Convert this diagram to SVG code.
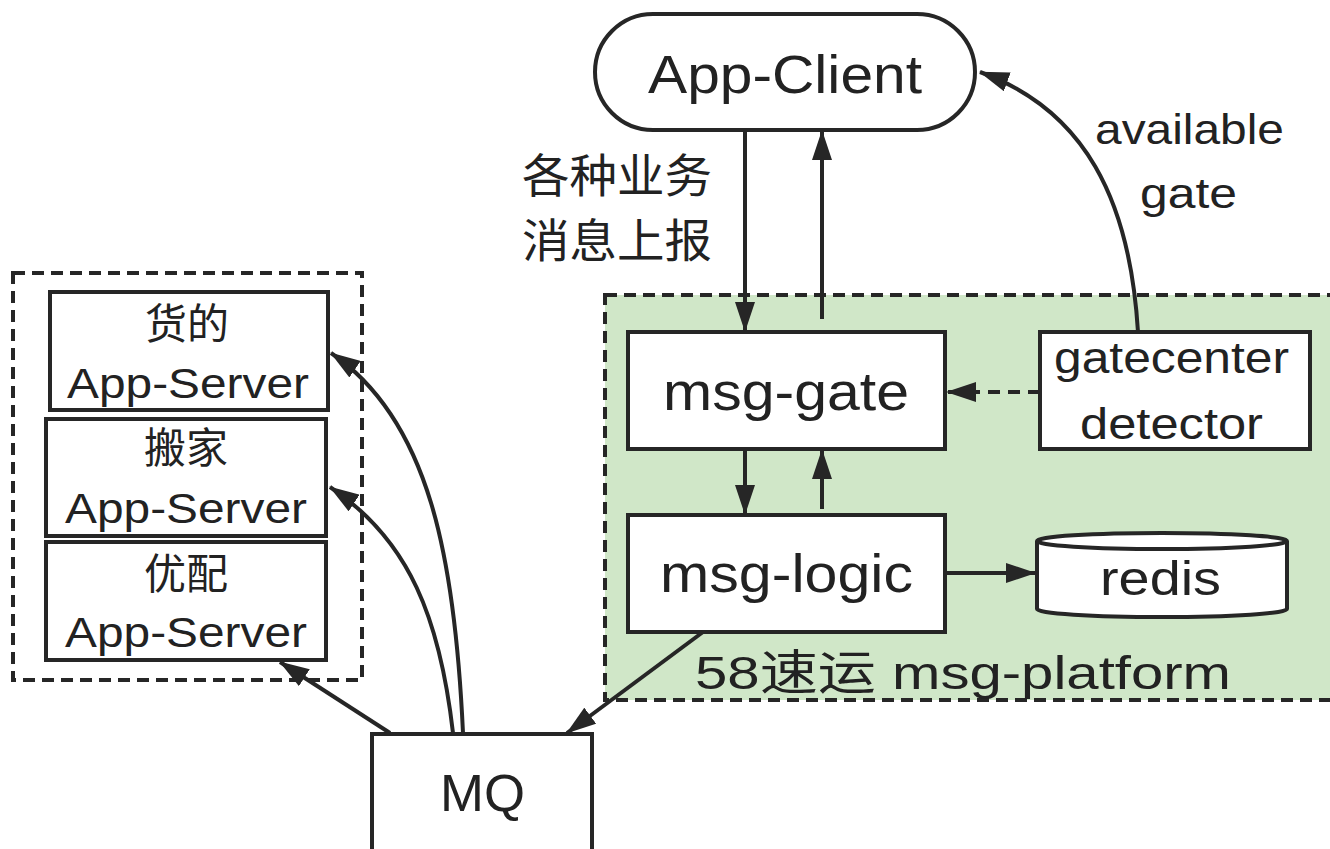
<svg xmlns="http://www.w3.org/2000/svg" width="1330" height="849" viewBox="0 0 1330 849">
  <defs>
    <marker id="arrow" viewBox="0 0 30 20" refX="29" refY="10" markerWidth="30" markerHeight="20" markerUnits="userSpaceOnUse" orient="auto">
      <path d="M0,0 L30,10 L0,20 Z" fill="#262626"/>
    </marker>
    <style>
      .box { fill: #ffffff; stroke: #262626; stroke-width: 4; }
      .group { stroke: #262626; stroke-width: 4; stroke-dasharray: 12 7; }
      .edge { fill: none; stroke: #262626; stroke-width: 4; marker-end: url(#arrow); }
      .dash { stroke-dasharray: 12 8; }
      text { font-family: "Liberation Sans", "Noto Sans CJK SC", sans-serif; fill: #222222; }
      .cjk { font-family: "Noto Sans CJK SC", "Liberation Sans", sans-serif; }
    </style>
  </defs>

  <rect width="1330" height="849" fill="#ffffff"/>

  <!-- platform area -->
  <g id="msg-platform">
    <rect class="group" x="605" y="295" width="740" height="405" fill="#d0e7c8"/>
    <text x="695" y="689" font-size="47" textLength="536" lengthAdjust="spacingAndGlyphs">58速运 msg-platform</text>
  </g>

  <!-- business servers area -->
  <g id="app-servers">
    <rect class="group" x="13" y="273" width="349" height="407" fill="none"/>
  </g>

  <g id="app-client">
    <rect class="box" x="595" y="14" width="380" height="116" rx="58" ry="58"/>
    <text x="648" y="93" font-size="53" textLength="274" lengthAdjust="spacingAndGlyphs">App-Client</text>
  </g>

  <g id="huodi-server">
    <rect class="box" x="50" y="292" width="278" height="118"/>
    <text class="cjk" x="187" y="339" font-size="42" text-anchor="middle">货的</text>
    <text x="67" y="398" font-size="43" textLength="242" lengthAdjust="spacingAndGlyphs">App-Server</text>
  </g>

  <g id="banjia-server">
    <rect class="box" x="46" y="419" width="280" height="117"/>
    <text class="cjk" x="186" y="463" font-size="42" text-anchor="middle">搬家</text>
    <text x="65" y="523" font-size="43" textLength="242" lengthAdjust="spacingAndGlyphs">App-Server</text>
  </g>

  <g id="youpei-server">
    <rect class="box" x="46" y="542" width="280" height="118"/>
    <text class="cjk" x="186" y="589" font-size="42" text-anchor="middle">优配</text>
    <text x="65" y="647" font-size="43" textLength="242" lengthAdjust="spacingAndGlyphs">App-Server</text>
  </g>

  <g id="msg-gate">
    <rect class="box" x="628" y="332" width="317" height="117"/>
    <text x="663" y="410" font-size="53" textLength="246" lengthAdjust="spacingAndGlyphs">msg-gate</text>
  </g>

  <g id="gatecenter-detector">
    <rect class="box" x="1040" y="332" width="270" height="117"/>
    <text x="1054" y="373" font-size="45" textLength="235" lengthAdjust="spacingAndGlyphs">gatecenter</text>
    <text x="1080" y="439" font-size="45" textLength="183" lengthAdjust="spacingAndGlyphs">detector</text>
  </g>

  <g id="msg-logic">
    <rect class="box" x="628" y="515" width="317" height="117"/>
    <text x="660" y="592" font-size="53" textLength="253" lengthAdjust="spacingAndGlyphs">msg-logic</text>
  </g>

  <g id="redis">
    <path class="box" d="M1037,541 L1037,609 A125,8 0 0 0 1287,609 L1287,541 A125,8 0 0 0 1037,541 Z"/>
    <path d="M1037,541 A125,8 0 0 0 1287,541" fill="none" stroke="#262626" stroke-width="4"/>
    <text x="1100" y="595" font-size="49" textLength="121" lengthAdjust="spacingAndGlyphs">redis</text>
  </g>

  <g id="mq">
    <rect class="box" x="372" y="734" width="220" height="130"/>
    <text x="440" y="811" font-size="51" textLength="85" lengthAdjust="spacingAndGlyphs">MQ</text>
  </g>

  <!-- connectors -->
  <g id="connectors">
    <line class="edge" x1="745" y1="130" x2="745" y2="331"/>
    <line class="edge" x1="822" y1="319" x2="822" y2="131"/>
    <path class="edge" d="M1138,332 C1130,200 1085,110 980,72"/>
    <line class="edge dash" x1="1040" y1="392" x2="947" y2="392"/>
    <line class="edge" x1="745" y1="449" x2="745" y2="514"/>
    <line class="edge" x1="822" y1="509" x2="822" y2="450"/>
    <line class="edge" x1="945" y1="573" x2="1035" y2="573"/>
    <line class="edge" x1="703" y1="632" x2="567" y2="733"/>
    <path class="edge" d="M463,733 C455,560 430,420 331,353"/>
    <path class="edge" d="M453,733 C440,620 410,540 330,487"/>
    <line class="edge" x1="390" y1="733" x2="280" y2="662"/>
    <text class="cjk" x="522" y="192" font-size="46" textLength="190" lengthAdjust="spacingAndGlyphs">各种业务</text>
    <text class="cjk" x="522" y="257" font-size="46" textLength="190" lengthAdjust="spacingAndGlyphs">消息上报</text>
    <text x="1095" y="144" font-size="43" textLength="189" lengthAdjust="spacingAndGlyphs">available</text>
    <text x="1140" y="208" font-size="43" textLength="97" lengthAdjust="spacingAndGlyphs">gate</text>
  </g>
</svg>
